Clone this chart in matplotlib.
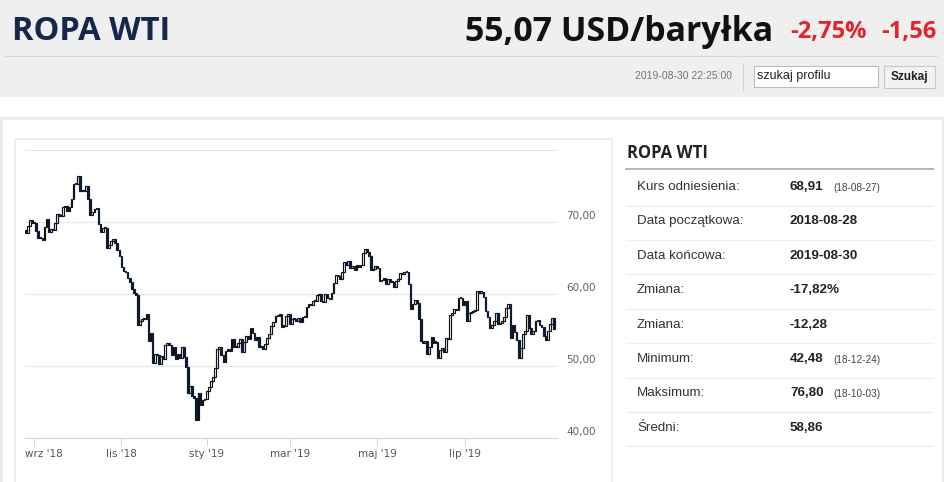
import numpy as np
import pandas as pd
import matplotlib
matplotlib.use('Agg')
import matplotlib.pyplot as plt
from matplotlib.patches import Rectangle
from matplotlib.transforms import ScaledTranslation, blended_transform_factory

# --- dane ---
holidays = ['2018-09-03', '2018-11-22', '2018-12-25', '2019-01-01', '2019-01-21',
            '2019-02-18', '2019-04-19', '2019-05-27', '2019-07-04']
dates = pd.bdate_range('2018-08-28', '2019-08-30')
dates = dates[~dates.isin(pd.to_datetime(holidays))]

close_aug18 = [68.53, 69.51, 70.25, 69.80]
close_sep18 = [69.87, 68.72, 67.77, 67.75, 67.54, 69.25, 70.37, 68.59, 68.99, 68.91,
               69.85, 71.12, 70.80, 70.78, 72.08, 72.28, 71.57, 72.12, 73.25]
close_oct18 = [75.30, 75.23, 76.41, 74.33, 74.34, 74.29, 74.96, 73.17, 70.97, 71.34,
               71.78, 71.92, 69.75, 68.65, 69.12, 69.17, 66.43, 66.82, 67.33, 67.59,
               67.04, 66.18, 65.31]
close_nov18 = [63.69, 63.14, 63.10, 62.21, 61.67, 60.67, 60.19, 59.93, 55.69, 56.25,
               56.46, 56.46, 57.20, 53.43, 54.63, 50.42, 51.63, 51.56, 50.29, 51.45, 50.93]
close_dec18 = [52.95, 53.25, 52.89, 51.49, 52.61, 51.00, 51.65, 51.15, 52.58, 51.20,
               49.88, 46.24, 47.20, 45.88, 45.59, 42.53, 46.22, 44.61, 45.33, 45.41]
close_jan19 = [46.54, 47.09, 47.96, 48.52, 49.78, 52.36, 52.59, 51.59, 50.51, 52.11,
               52.31, 52.07, 53.80, 52.57, 52.62, 53.13, 53.69, 51.99, 53.31, 54.23, 53.79]
close_feb19 = [55.26, 54.56, 53.66, 54.01, 52.64, 52.72, 52.41, 53.10, 53.90, 54.41,
               55.59, 56.09, 56.92, 56.96, 57.26, 55.48, 55.50, 56.94, 57.22]
close_mar19 = [55.80, 56.59, 56.56, 56.22, 56.66, 56.07, 56.79, 56.87, 58.26, 58.61,
               58.52, 59.09, 59.03, 59.83, 59.98, 59.04, 58.82, 59.94, 59.41, 59.30, 60.14]
close_apr19 = [61.59, 62.58, 62.46, 62.10, 63.08, 64.40, 64.05, 64.61, 63.58, 63.89,
               63.40, 64.05, 63.76, 64.00, 65.70, 66.30, 65.89, 65.21, 63.30, 63.50, 63.91]
close_may19 = [63.60, 61.81, 61.94, 62.25, 61.40, 62.12, 61.70, 61.66, 61.04, 61.78,
               62.02, 62.87, 62.76, 63.10, 62.99, 61.42, 57.91, 58.63, 59.14, 58.81,
               56.59, 53.50]
close_jun19 = [53.25, 53.48, 51.68, 52.59, 53.99, 53.26, 53.27, 51.14, 52.28, 52.51,
               51.93, 53.90, 53.76, 57.07, 57.43, 57.90, 57.83, 59.38, 59.43, 58.47]
close_jul19 = [59.09, 56.25, 57.34, 57.51, 57.66, 57.83, 60.43, 60.20, 60.21, 59.58,
               57.62, 56.78, 55.30, 55.63, 56.22, 57.35, 55.88, 56.02, 56.20, 56.87,
               58.05, 58.58]
close_aug19 = [53.95, 55.66, 54.69, 53.63, 51.09, 52.54, 54.50, 54.93, 57.10, 55.23,
               54.47, 54.87, 56.21, 56.34, 55.68, 55.35, 54.17, 53.64, 54.93, 55.78,
               56.63, 55.07]

closes = np.array(close_aug18 + close_sep18 + close_oct18 + close_nov18 + close_dec18
                  + close_jan19 + close_feb19 + close_mar19 + close_apr19 + close_may19
                  + close_jun19 + close_jul19 + close_aug19)
ref_close = 68.91
opens = np.r_[ref_close, closes[:-1]]

tick_months = ['2018-09-01', '2018-11-01', '2019-01-01', '2019-03-01', '2019-05-01', '2019-07-01']
tick_labels = ["wrz '18", "lis '18", "sty '19", "mar '19", "maj '19", "lip '19"]
y_ticks = [40, 50, 60, 70]
grid_levels = [50, 60, 70, 80]

title = 'ROPA WTI'
price_txt = '55,07 USD/baryłka'
change_pct_txt = '-2,75%'
change_txt = '-1,56'
timestamp = '2019-08-30 22:25:00'

stat_labels = ['Kurs odniesienia:', 'Data początkowa:', 'Data końcowa:', 'Zmiana:',
               'Zmiana:', 'Minimum:', 'Maksimum:', 'Średni:']
stat_values = ['68,91', '2018-08-28', '2019-08-30', '-17,82%', '-12,28', '42,48', '76,80', '58,86']
stat_dates = ['(18-08-27)', '', '', '', '', '(18-12-24)', '(18-10-03)', '']

# --- figura ---
W, H = 945, 482
fig = plt.figure(figsize=(W / 100, H / 100), dpi=100)
fig.patch.set_facecolor('white')
bg = fig.add_axes([0, 0, 1, 1])
bg.set_xlim(0, W)
bg.set_ylim(H, 0)
bg.axis('off')

# naglowek
bg.add_patch(Rectangle((0, 0), W, 97, color='#efefef', lw=0))
bg.plot([5, 937], [55.5, 55.5], color='#d6d6d6', lw=0.8)
bg.text(12, 40, title, fontsize=23.5, family='Open Sans', weight='bold',
        color='#14284b', va='baseline')
bg.text(773, 41, price_txt, fontsize=24.4, family='Open Sans', weight='bold',
        color='#111111', ha='right', va='baseline')
bg.text(790, 38, change_pct_txt, fontsize=17, family='Open Sans', weight='bold',
        color='#e8222b', va='baseline')
bg.text(937, 38, change_txt, fontsize=17, family='Open Sans', weight='bold',
        color='#e8222b', ha='right', va='baseline')
bg.text(732, 76, timestamp, fontsize=7.5, family='Liberation Sans', color='#777777',
        ha='right', va='center')
bg.plot([743, 743], [63, 90], color='#d5d5d5', lw=0.8)
bg.add_patch(Rectangle((754, 66), 124, 21, facecolor='white', edgecolor='#bdbdbd', lw=0.8))
bg.text(757, 76.5, 'szukaj profilu', fontsize=9, family='Liberation Sans',
        color='#222222', va='center')
bg.add_patch(Rectangle((884, 66), 51, 22, facecolor='#f2f2f2', edgecolor='#c8c8c8', lw=0.8))
bg.text(909.5, 77, 'Szukaj', fontsize=8.5, family='Liberation Sans', weight='bold',
        color='#222222', ha='center', va='center')

# ramki panelu
bg.add_patch(Rectangle((0, 117), W, 3, color='#ebebeb', lw=0))
bg.add_patch(Rectangle((0, 117), 3, H, color='#ebebeb', lw=0))
bg.add_patch(Rectangle((942, 117), 3, H, color='#ebebeb', lw=0))
bg.add_patch(Rectangle((15, 139), 597, 360, fill=False, edgecolor='#efefef', lw=1.5))

# tabela statystyk
bg.text(627, 153, title, fontsize=12, family='Open Sans', weight='bold',
        color='#222222', va='center')
bg.plot([626, 933], [169, 169], color='#b5b5b5', lw=1.4)
for i, (lab, val, dat) in enumerate(zip(stat_labels, stat_values, stat_dates)):
    y = 187 + 34.4 * i
    bg.text(637, y, lab, fontsize=9.6, family='Liberation Sans', color='#333333', va='center')
    bg.text(790, y, val, fontsize=9.6, family='Liberation Sans', weight='bold',
            color='#222222', va='center')
    if dat:
        bg.text(833, y + 1, dat, fontsize=7.2, family='Liberation Sans',
                color='#444444', va='center')
    bg.plot([626, 933], [y + 18.5, y + 18.5], color='#eeeeee', lw=1.0)

# wykres swiecowy
ax = fig.add_axes([25 / W, (H - 438) / H, 532 / W, 288 / H])
ax.set_facecolor('none')
for v in grid_levels:
    ax.axhline(v, color='#e6e6e6', lw=0.8, zorder=0)

x = np.arange(len(closes))
up = closes >= opens
body_low = np.minimum(opens, closes)
body_h = np.maximum(np.abs(closes - opens), 0.15)
ax.bar(x[up], body_h[up], bottom=body_low[up], width=0.8,
       facecolor='white', edgecolor='#111111', linewidth=0.85, zorder=3)
ax.bar(x[~up], body_h[~up], bottom=body_low[~up], width=0.8,
       facecolor='#0c1a33', edgecolor='#0c1a33', linewidth=0.85, zorder=3)

ax.set_xlim(-0.35, 255.4)
ax.set_ylim(40, 80)
for s in ['left', 'top', 'right']:
    ax.spines[s].set_visible(False)
ax.spines['bottom'].set_color('#ccd6eb')
ax.spines['bottom'].set_linewidth(0.8)
ax.set_yticks([])

tick_idx = [int(np.searchsorted(dates, pd.Timestamp(m))) for m in tick_months]
ax.set_xticks(tick_idx, tick_labels)
ax.tick_params(axis='x', length=6, width=0.7, color='#ccd6eb', labelsize=7.5,
               labelcolor='#555555', pad=2, direction='out')
first = ax.get_xticklabels()[0]
first.set_transform(first.get_transform() + ScaledTranslation(10 / 100, 0, fig.dpi_scale_trans))

ytrans = blended_transform_factory(ax.transAxes, ax.transData) + \
    ScaledTranslation(0, 6 / 100, fig.dpi_scale_trans)
for v in y_ticks:
    ax.text(1.017, v, f'{v:.2f}'.replace('.', ','), transform=ytrans, ha='left',
            va='center', fontsize=7.5, color='#606060')

fig.savefig('out.png', dpi=100)
